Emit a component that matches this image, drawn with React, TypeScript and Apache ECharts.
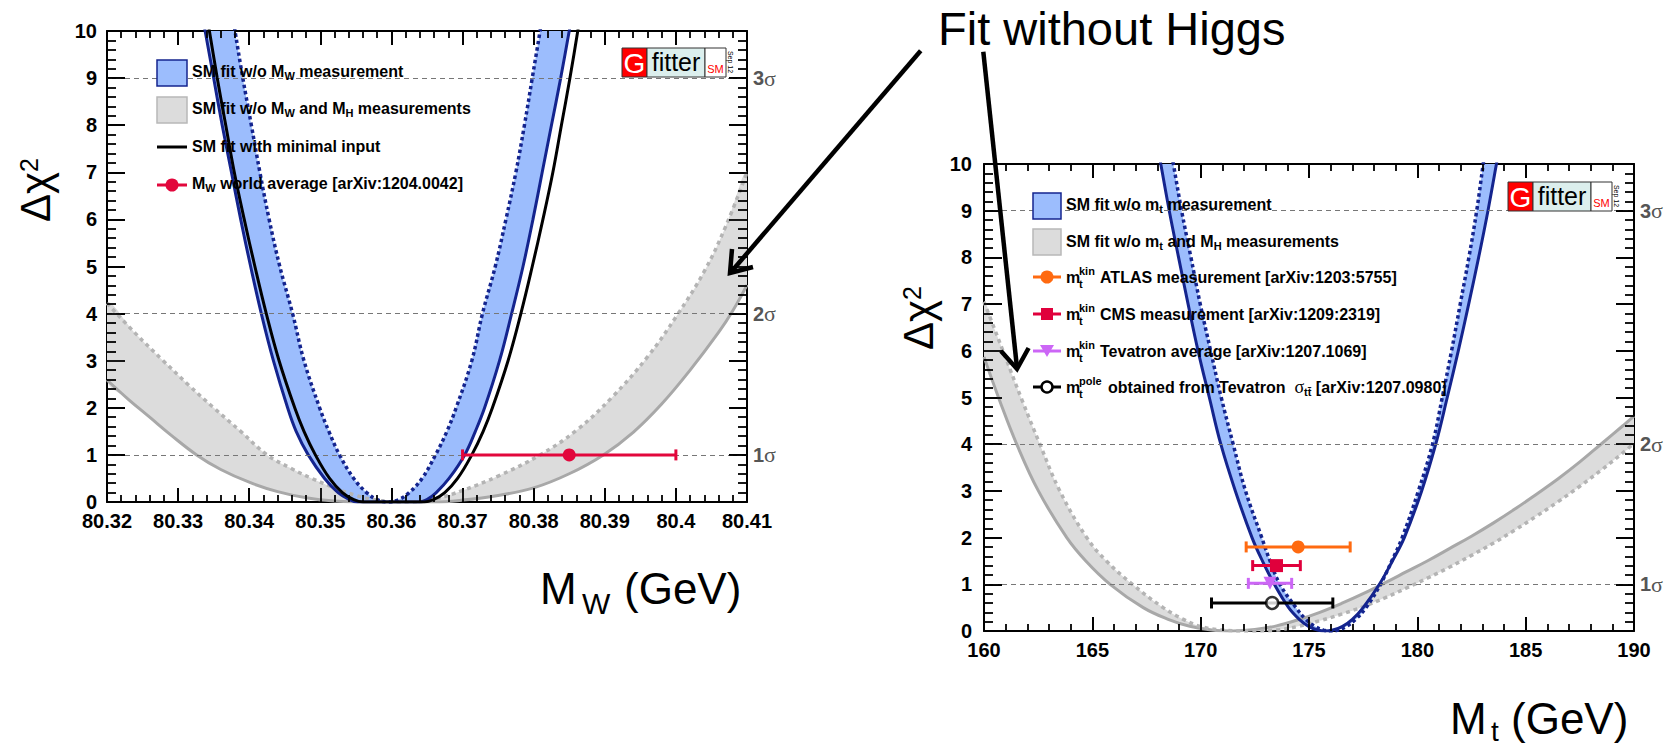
import React, { useEffect, useRef } from 'react';
import * as echarts from 'echarts';

const FONT = '"Liberation Sans", Arial, Helvetica, sans-serif';
const SERIF = '"Liberation Serif", "Times New Roman", serif';

// ---------------- Left panel: M_W scan ----------------
const mwRange = [80.32, 80.41];
const mwStep = 0.01;
const leftBlueSolid = [
  [80.3332, 10.5], [80.3338, 10], [80.335, 9], [80.3362, 8], [80.3375, 7], [80.3388, 6], [80.3402, 5], [80.3417, 4],
  [80.3434, 3], [80.3454, 2], [80.3466, 1.5], [80.3483, 1], [80.3506, 0.5], [80.3525, 0.2], [80.3541, 0.05], [80.3552, 0],
  [80.364, 0], [80.365, 0.05], [80.3663, 0.2], [80.3681, 0.5], [80.3703, 1], [80.3718, 1.5], [80.3731, 2], [80.3752, 3],
  [80.3769, 4], [80.3785, 5], [80.3799, 6], [80.3812, 7], [80.3825, 8], [80.3838, 9], [80.385, 10], [80.3856, 10.5],
];
const leftBlueDotted = [
  [80.3375, 10.5], [80.338, 10], [80.3391, 9], [80.3403, 8], [80.3415, 7], [80.3428, 6], [80.3443, 5], [80.3461, 4],
  [80.3477, 3], [80.3499, 2], [80.3512, 1.5], [80.3527, 1], [80.3547, 0.5], [80.3565, 0.2], [80.358, 0.05], [80.3595, 0],
  [80.361, 0.05], [80.3625, 0.2], [80.3643, 0.5], [80.3662, 1], [80.3678, 1.5], [80.3691, 2], [80.3713, 3],
  [80.3728, 4], [80.3746, 5], [80.3761, 6], [80.3775, 7], [80.3787, 8], [80.3798, 9], [80.3809, 10], [80.3814, 10.5],
];
const leftBlack = [
  [80.3338, 10.5], [80.3344, 10], [80.3355, 9], [80.3367, 8], [80.3379, 7], [80.3393, 6], [80.3408, 5], [80.3424, 4],
  [80.3442, 3], [80.3464, 2], [80.3477, 1.5], [80.3493, 1], [80.3513, 0.5], [80.3531, 0.2], [80.3547, 0.05], [80.356, 0],
  [80.3646, 0], [80.3659, 0.05], [80.3675, 0.2], [80.3693, 0.5], [80.3713, 1], [80.3729, 1.5], [80.3742, 2], [80.3764, 3],
  [80.3782, 4], [80.3798, 5], [80.3813, 6], [80.3827, 7], [80.3839, 8], [80.3851, 9], [80.3862, 10], [80.3867, 10.5],
];
const leftGraySolid = [
  [80.32, 2.59], [80.323, 2.18], [80.326, 1.8], [80.329, 1.42], [80.3326, 1.0], [80.336, 0.69], [80.34, 0.42],
  [80.344, 0.22], [80.348, 0.09], [80.352, 0.02], [80.356, 0], [80.366, 0], [80.37, 0.04], [80.375, 0.14], [80.38, 0.3],
  [80.385, 0.6], [80.3898, 1.0], [80.394, 1.48], [80.398, 2.08], [80.402, 2.8], [80.406, 3.6], [80.408, 4.06], [80.41, 4.61],
];
const leftGrayDotted = [
  [80.32, 4.22], [80.324, 3.58], [80.3279, 3.0], [80.3315, 2.48], [80.335, 2.0], [80.3388, 1.5], [80.3425, 1.0],
  [80.3458, 0.72], [80.3488, 0.5], [80.352, 0.3], [80.355, 0.14], [80.358, 0.04], [80.361, 0], [80.3625, 0],
  [80.366, 0.06], [80.3701, 0.25], [80.375, 0.55], [80.3809, 1.0], [80.386, 1.52], [80.391, 2.22], [80.396, 3.08],
  [80.4001, 3.95], [80.404, 4.9], [80.407, 5.85], [80.41, 7.0],
];
const mwCentral = [80.385];
const mwLow = [80.37];
const mwHigh = [80.4];
const mwLevel = [1];

// ---------------- Right panel: m_t scan ----------------
const mtRange = [160, 190];
const mtStep = 5;
const rightBlueSolid = [
  [167.94, 10.6], [168.16, 10], [168.55, 9], [168.98, 8], [169.42, 7], [169.88, 6], [170.4, 5], [170.93, 4], [171.6, 3],
  [172.37, 2], [172.85, 1.5], [173.4, 1], [174.06, 0.5], [174.55, 0.25], [174.98, 0.1], [175.4, 0.02], [175.75, 0],
  [176.1, 0.02], [176.55, 0.1], [177.0, 0.25], [177.5, 0.5], [178.25, 1], [178.85, 1.5], [179.4, 2], [180.2, 3],
  [180.85, 4], [181.38, 5], [181.89, 6], [182.37, 7], [182.83, 8], [183.26, 9], [183.65, 10], [183.87, 10.6],
];
const rightBlueDotted = [
  [168.52, 10.6], [168.74, 10], [169.12, 9], [169.55, 8], [169.98, 7], [170.46, 6], [170.95, 5], [171.5, 4], [172.07, 3],
  [172.82, 2], [173.2, 1.5], [173.66, 1], [174.4, 0.5], [174.85, 0.25], [175.27, 0.1], [175.67, 0.02], [176.0, 0],
  [176.33, 0.02], [176.73, 0.1], [177.15, 0.25], [177.63, 0.5], [178.3, 1], [178.82, 1.5], [179.3, 2], [180.05, 3],
  [180.7, 4], [181.15, 5], [181.58, 6], [181.98, 7], [182.38, 8], [182.74, 9], [183.04, 10], [183.22, 10.6],
];
const rightGraySolid = [
  [160, 5.87], [160.75, 4.9], [161.51, 4.0], [162.51, 3.0], [163.82, 2.0], [164.7, 1.5], [165.82, 1.0], [167.35, 0.5],
  [168.5, 0.25], [169.5, 0.1], [170.5, 0.02], [171.5, 0], [172.5, 0.03], [173.5, 0.11], [174.5, 0.24], [175.5, 0.4],
  [176.5, 0.59], [177.5, 0.8], [178.5, 1.03], [179.5, 1.27], [180.5, 1.51], [181.5, 1.77], [182.5, 2.03], [183.5, 2.31],
  [184.5, 2.61], [185.5, 2.93], [186.5, 3.26], [187.5, 3.62], [188.5, 4.01], [189.5, 4.4], [190.0, 4.6],
];
const rightGrayDotted = [
  [160, 7.05], [160.5, 6.45], [161.0, 5.85], [161.75, 4.95], [162.58, 4.0], [163.5, 3.0], [164.74, 2.0], [165.65, 1.5],
  [166.85, 1.0], [168.27, 0.5], [169.2, 0.25], [169.97, 0.1], [171.0, 0.02], [172.3, 0], [173.5, 0.02], [174.5, 0.1],
  [175.5, 0.22], [176.5, 0.36], [177.5, 0.52], [178.5, 0.71], [179.5, 0.92], [180.5, 1.14], [181.5, 1.37], [182.5, 1.62],
  [183.5, 1.88], [184.5, 2.16], [185.5, 2.46], [186.5, 2.77], [187.5, 3.1], [188.5, 3.45], [189.5, 3.82], [190.0, 4.02],
];
const mtNames = ['ATLAS', 'CMS', 'Tevatron', 'pole'];
const mtCentral = [174.5, 173.5, 173.2, 173.3];
const mtLow = [172.1, 172.4, 172.2, 170.5];
const mtHigh = [176.9, 174.6, 174.2, 176.1];
const mtLevel = [1.8, 1.4, 1.02, 0.6];

const sigmaLevels = [1, 4, 9];
const sigmaNames = ['1', '2', '3'];
const chiRange = [0, 10];

// tick positions (5 minor divisions per major step)
function tickList(min: number, step: number, nMajor: number) {
  const out: number[][] = [];
  for (let i = 0; i <= nMajor * 5; i++) out.push([min + (i * step) / 5, i % 5 === 0 ? 1 : 0]);
  return out;
}
const mwTicks = tickList(mwRange[0], mwStep, 9);
const mtTicks = tickList(mtRange[0], mtStep, 6);
const chiTicks = tickList(0, 1, 10);

// ---------------- layout ----------------
const GRID_L = { left: 107, top: 31, width: 640, height: 471 };
const GRID_R = { left: 984, top: 164, width: 650, height: 467 };

// ---------------- styles ----------------
const NAVY = '#14248e';
const BLUEFILL = '#9cbdfd';
const GRAYFILL = '#dcdcdc';
const GRAYLINE = '#a8a8a8';
const GRAYDOT = '#b4b4b4';
const RED = '#e2073c';
const ORANGE = '#ff6a10';
const CRIMSON = '#e0003c';
const VIOLET = '#cc66f6';
const mtColors = [ORANGE, CRIMSON, VIOLET, '#000'];

function mkX(gi: number, pos: string, range: number[], step: number, show: boolean, fmt?: any) {
  return {
    gridIndex: gi, type: 'value', position: pos, min: range[0], max: range[1], interval: step,
    axisLine: { show: true, onZero: false, lineStyle: { color: '#000', width: 2 } },
    axisTick: { show: true, inside: true, length: 14, lineStyle: { color: '#000', width: 1.8 } },
    axisLabel: show
      ? { show: true, margin: 9, color: '#000', fontSize: 20, fontWeight: 'bold', fontFamily: FONT, formatter: fmt }
      : { show: false },
    splitLine: { show: false },
  };
}

function sigmaFmt(v: number) {
  const i = sigmaLevels.findIndex((s) => Math.abs(s - v) < 1e-6);
  return i >= 0 ? `{n|${sigmaNames[i]}}{g|σ}` : '';
}

function mkY(gi: number, pos: string, margin: number, sigma: boolean) {
  return {
    gridIndex: gi, type: 'value', position: pos, min: chiRange[0], max: chiRange[1], interval: 1,
    axisLine: { show: true, onZero: false, lineStyle: { color: '#000', width: 2 } },
    axisTick: { show: true, inside: true, length: 18, lineStyle: { color: '#000', width: 1.8 } },
    axisLabel: sigma
      ? {
          show: true, margin, formatter: sigmaFmt,
          rich: {
            n: { fontSize: 20, fontWeight: 'bold', color: '#555', fontFamily: FONT },
            g: { fontSize: 22, color: '#555', fontFamily: SERIF },
          },
        }
      : { show: true, margin, color: '#000', fontSize: 20, fontWeight: 'bold', fontFamily: FONT, lineHeight: 14 },
    splitLine: { show: false },
  };
}

function curve(ai: number, data: number[][], color: string, width: number, dash: any, z: number, extra: any = {}) {
  return {
    type: 'line', xAxisIndex: ai, yAxisIndex: ai, data, showSymbol: false, symbol: 'none', smooth: 0.4,
    silent: true, clip: true, z,
    lineStyle: { color, width, type: dash, cap: 'butt' },
    ...extra,
  };
}

function band(ai: number, outer: number[][], inner: number[][], fill: string) {
  return {
    type: 'custom', xAxisIndex: ai, yAxisIndex: ai, z: 1, silent: true, clip: true,
    data: outer,
    encode: { x: 0, y: 1 },
    renderItem: (params: any, api: any) => {
      if (params.dataIndex !== 0) return null;
      const pts = outer.map((p) => api.coord(p)).concat(inner.slice().reverse().map((p) => api.coord(p)));
      const cs = params.coordSys;
      return {
        type: 'polygon',
        shape: { points: pts, smooth: 0.4 },
        style: { fill, stroke: null },
        clipPath: { type: 'rect', shape: { x: cs.x, y: cs.y, width: cs.width, height: cs.height } },
      };
    },
  };
}

function errorBars(ai: number, cen: number[], lo: number[], hi: number[], lev: number[], colors: string[]) {
  return {
    type: 'custom', xAxisIndex: ai, yAxisIndex: ai, z: 6, silent: true,
    data: cen.map((c, i) => [c, lev[i], lo[i], hi[i], i]),
    encode: { x: 0, y: 1 },
    renderItem: (params: any, api: any) => {
      const y = api.value(1);
      const a = api.coord([api.value(2), y]);
      const b = api.coord([api.value(3), y]);
      const st = { stroke: colors[api.value(4)], lineWidth: 3 };
      return {
        type: 'group',
        children: [
          { type: 'line', shape: { x1: a[0], y1: a[1], x2: b[0], y2: b[1] }, style: st },
          { type: 'line', shape: { x1: a[0], y1: a[1] - 5.5, x2: a[0], y2: a[1] + 5.5 }, style: st },
          { type: 'line', shape: { x1: b[0], y1: b[1] - 5.5, x2: b[0], y2: b[1] + 5.5 }, style: st },
        ],
      };
    },
  };
}

function marker(ai: number, x: number, y: number, symbol: string, size: number, color: string, extra: any = {}) {
  return {
    type: 'scatter', xAxisIndex: ai, yAxisIndex: ai, z: 7, silent: true, data: [[x, y]],
    symbol, symbolSize: size, itemStyle: { color, opacity: 1 }, ...extra,
  };
}

// dashed sigma levels plus ROOT-style ticks (lengths converted from pixels to data units of the panel)
function frameMarks(xt: number[][], yt: number[][], xr: number[], yr: number[], g: any) {
  const ux = (xr[1] - xr[0]) / g.width;
  const uy = (yr[1] - yr[0]) / g.height;
  const solid = { type: 'solid', color: '#000', width: 1.8 };
  const data: any[] = sigmaLevels.map((v) => ({ yAxis: v }));
  xt.forEach(([v, m]) => {
    const L = (m ? 14 : 7) * uy;
    data.push([{ coord: [v, yr[0]], lineStyle: solid }, { coord: [v, yr[0] + L] }]);
    data.push([{ coord: [v, yr[1]], lineStyle: solid }, { coord: [v, yr[1] - L] }]);
  });
  yt.forEach(([v, m]) => {
    const L = (m ? 18 : 9) * ux;
    data.push([{ coord: [xr[0], v], lineStyle: solid }, { coord: [xr[0] + L, v] }]);
    data.push([{ coord: [xr[1], v], lineStyle: solid }, { coord: [xr[1] - L, v] }]);
  });
  return {
    silent: true, symbol: 'none', label: { show: false }, animation: false,
    lineStyle: { color: '#777', width: 1, type: [5, 4] },
    data,
  };
}

// ---------------- graphic helpers ----------------
const subRich = {
  s: { fontSize: 11, fontWeight: 'bold', fontFamily: FONT, padding: [10, 0, 0, 0] },
  g: { fontSize: 18, fontFamily: SERIF, fontWeight: 'normal' },
};

function txt(x: number, y: number, text: string, size = 16, weight = 'bold', extra: any = {}) {
  return {
    type: 'text', x, y, z: 100,
    style: {
      text, fontSize: size, fontWeight: weight, fontFamily: FONT, fill: '#000', align: 'left', verticalAlign: 'middle',
      rich: subRich, ...extra,
    },
  };
}

function boxSym(x: number, yc: number, w: number, fill: string, stroke: string) {
  return { type: 'rect', z: 100, shape: { x, y: yc - 13, width: w, height: 26 }, style: { fill, stroke, lineWidth: 1.5 } };
}
function lineSym(x: number, yc: number, w: number, color: string) {
  return { type: 'line', z: 100, shape: { x1: x, y1: yc, x2: x + w, y2: yc }, style: { stroke: color, lineWidth: 3 } };
}

function mtRow(x: number, yc: number, sup: string, supW: number, rest: string) {
  return [
    txt(x, yc, 'm'),
    txt(x + 13, yc - 6, sup, 11),
    txt(x + 13, yc + 7, 't', 11),
    txt(x + 13 + supW, yc, rest),
  ];
}

function logo(x: number, y: number) {
  return [
    { type: 'rect', z: 100, shape: { x, y, width: 25, height: 29 }, style: { fill: '#ff0000', stroke: '#333', lineWidth: 1 } },
    { type: 'rect', z: 100, shape: { x: x + 25, y, width: 58, height: 29 }, style: { fill: '#dcefed', stroke: '#333', lineWidth: 1 } },
    { type: 'rect', z: 100, shape: { x: x + 83, y, width: 21, height: 29 }, style: { fill: '#fff', stroke: '#333', lineWidth: 1 } },
    { type: 'text', z: 101, x: x + 12.5, y: y + 15, style: { text: 'G', fill: '#fff', fontSize: 28, fontFamily: FONT, align: 'center', verticalAlign: 'middle' } },
    { type: 'text', z: 101, x: x + 54, y: y + 14, style: { text: 'fitter', fill: '#000', fontSize: 25, fontFamily: FONT, align: 'center', verticalAlign: 'middle' } },
    { type: 'text', z: 101, x: x + 93.5, y: y + 21, style: { text: 'SM', fill: '#ff0000', fontSize: 11, fontFamily: FONT, align: 'center', verticalAlign: 'middle' } },
    { type: 'text', z: 101, x: x + 108.5, y: y + 14, rotation: -Math.PI / 2, style: { text: 'Sep 12', fill: '#000', fontSize: 7, fontFamily: FONT, align: 'center', verticalAlign: 'middle' } },
  ];
}

function arrow(x1: number, y1: number, x2: number, y2: number, head: number[][]) {
  return [
    { type: 'line', z: 110, shape: { x1, y1, x2, y2 }, style: { stroke: '#000', lineWidth: 4.5 } },
    { type: 'polyline', z: 110, shape: { points: head }, style: { stroke: '#000', lineWidth: 4.5, fill: null, lineJoin: 'miter' } },
  ];
}

const chiTitle = (x: number, y: number) => ({
  type: 'text', x, y, z: 100, rotation: Math.PI / 2,
  style: {
    text: 'Δχ{s|2}', fontSize: 42, fontFamily: FONT, fill: '#000', align: 'left', verticalAlign: 'middle',
    rich: { s: { fontSize: 25, fontFamily: FONT, padding: [0, 0, 14, 0] } },
  },
});

const staticGraphics: any[] = [
  // left legend
  boxSym(157, 73, 30, BLUEFILL, NAVY),
  boxSym(157, 110, 30, GRAYFILL, '#b8b8b8'),
  lineSym(157, 147, 30, '#000'),
  lineSym(157, 185, 30, RED),
  { type: 'circle', z: 100, shape: { cx: 172, cy: 185, r: 6.5 }, style: { fill: RED } },
  txt(192, 71, 'SM fit w/o M{s|W} measurement'),
  txt(192, 108, 'SM fit w/o M{s|W} and M{s|H} measurements'),
  txt(192, 146, 'SM fit with minimal input'),
  txt(192, 183, 'M{s|W} world average [arXiv:1204.0042]'),
  // right legend
  boxSym(1033, 206, 28, BLUEFILL, NAVY),
  boxSym(1033, 242, 28, GRAYFILL, '#b8b8b8'),
  lineSym(1033, 277, 28, ORANGE),
  { type: 'circle', z: 100, shape: { cx: 1047, cy: 277, r: 6.5 }, style: { fill: ORANGE } },
  lineSym(1033, 314, 28, CRIMSON),
  { type: 'rect', z: 100, shape: { x: 1041, y: 308, width: 12, height: 12 }, style: { fill: CRIMSON } },
  lineSym(1033, 351, 28, VIOLET),
  { type: 'polygon', z: 100, shape: { points: [[1040, 345], [1054, 345], [1047, 357]] }, style: { fill: VIOLET } },
  lineSym(1033, 387, 28, '#000'),
  { type: 'circle', z: 101, shape: { cx: 1047, cy: 387, r: 5.5 }, style: { fill: '#fff', stroke: '#000', lineWidth: 2.5 } },
  txt(1066, 204, 'SM fit w/o m{s|t} measurement'),
  txt(1066, 241, 'SM fit w/o m{s|t} and M{s|H} measurements'),
  ...mtRow(1066, 277, 'kin', 21, mtNames[0] + ' measurement [arXiv:1203:5755]'),
  ...mtRow(1066, 314, 'kin', 21, mtNames[1] + ' measurement [arXiv:1209:2319]'),
  ...mtRow(1066, 351, 'kin', 21, mtNames[2] + ' average [arXiv:1207.1069]'),
  ...mtRow(1066, 387, 'pole', 29, 'obtained from Tevatron  {g|σ}{s|tt\u0304} [arXiv:1207.0980]'),
  // logos
  ...logo(622, 48),
  ...logo(1508, 182),
  // axis titles
  chiTitle(35.5, 222),
  chiTitle(918.5, 350),
  txt(540, 588, 'M', 44, 'normal'),
  txt(582, 603, 'W', 30, 'normal'),
  txt(624, 588, '(GeV)', 44, 'normal'),
  txt(1450, 718, 'M', 44, 'normal'),
  txt(1491, 731, 't', 28, 'normal'),
  txt(1511, 718, '(GeV)', 44, 'normal'),
  // annotation
  txt(938, 28, 'Fit without Higgs', 47, 'normal'),
  ...arrow(920.7, 50.7, 731.5, 271.5, [[732, 249], [730, 273], [753, 267]]),
  ...arrow(983.3, 51.7, 1016.8, 366, [[1001, 351], [1017, 369], [1028.6, 348]]),
];

const option: any = {
  animation: false,
  backgroundColor: '#fff',
  grid: [
    { ...GRID_L, containLabel: false, outerBoundsMode: 'none' },
    { ...GRID_R, containLabel: false, outerBoundsMode: 'none' },
  ],
  xAxis: [
    mkX(0, 'bottom', mwRange, mwStep, true, (v: number) => String(Math.round(v * 100) / 100)),
    mkX(0, 'top', mwRange, mwStep, false),
    mkX(1, 'bottom', mtRange, mtStep, true, (v: number) => String(Math.round(v))),
    mkX(1, 'top', mtRange, mtStep, false),
  ],
  yAxis: [
    mkY(0, 'left', 10, false),
    mkY(0, 'right', 6, true),
    mkY(1, 'left', 12, false),
    mkY(1, 'right', 6, true),
  ],
  series: [
    // left panel (axis index 0)
    band(0, leftGraySolid, leftGrayDotted, GRAYFILL),
    band(0, leftBlueSolid, leftBlueDotted, BLUEFILL),
    curve(0, leftGraySolid, GRAYLINE, 3, 'solid', 3, { markLine: frameMarks(mwTicks, chiTicks, mwRange, chiRange, GRID_L) }),
    curve(0, leftGrayDotted, GRAYDOT, 3.5, [4, 4], 3),
    curve(0, leftBlueSolid, NAVY, 3, 'solid', 4),
    curve(0, leftBlueDotted, NAVY, 3.5, [3.5, 3], 4),
    curve(0, leftBlack, '#000', 3, 'solid', 5),
    errorBars(0, mwCentral, mwLow, mwHigh, mwLevel, [RED]),
    marker(0, mwCentral[0], mwLevel[0], 'circle', 13, RED),
    // right panel (axis index 2)
    band(2, rightGraySolid, rightGrayDotted, GRAYFILL),
    band(2, rightBlueSolid, rightBlueDotted, BLUEFILL),
    curve(2, rightGraySolid, GRAYLINE, 3, 'solid', 3, { markLine: frameMarks(mtTicks, chiTicks, mtRange, chiRange, GRID_R) }),
    curve(2, rightGrayDotted, GRAYDOT, 3.5, [4, 4], 3),
    curve(2, rightBlueSolid, NAVY, 3, 'solid', 4),
    curve(2, rightBlueDotted, NAVY, 3.5, [3.5, 3], 4),
    errorBars(2, mtCentral, mtLow, mtHigh, mtLevel, mtColors),
    marker(2, mtCentral[0], mtLevel[0], 'circle', 13, ORANGE),
    marker(2, mtCentral[1], mtLevel[1], 'rect', 13, CRIMSON),
    marker(2, mtCentral[2], mtLevel[2], 'triangle', 13, VIOLET, { symbolRotate: 180 }),
    marker(2, mtCentral[3], mtLevel[3], 'circle', 12, '#fff', { itemStyle: { color: '#fff', borderColor: '#000', borderWidth: 2.5 } }),
  ],
  graphic: { elements: staticGraphics },
};

export default function App() {
  const ref = useRef<HTMLDivElement>(null);
  useEffect(() => {
    const chart = echarts.init(ref.current!, null, { renderer: 'svg' });
    chart.setOption(option);
    return () => chart.dispose();
  }, []);
  return (
    <div
      ref={ref}
      style={{ position: 'fixed', left: 0, top: 0, width: 1669, height: 748, background: '#fff' }}
    />
  );
}
